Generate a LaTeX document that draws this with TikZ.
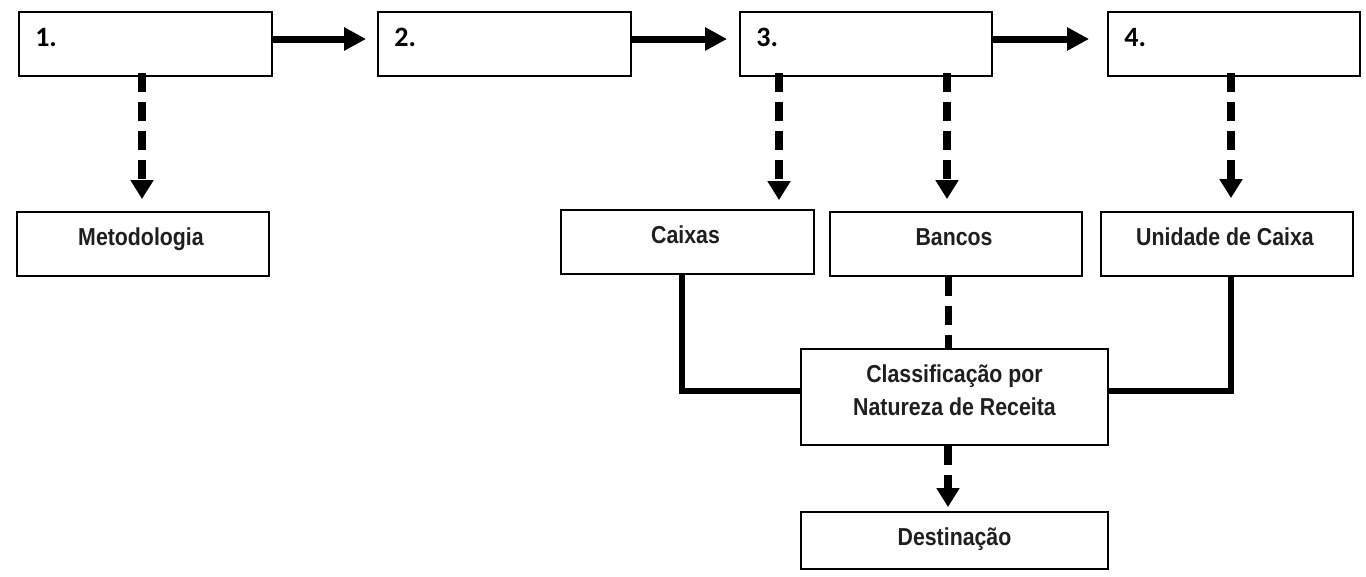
\documentclass[tikz,border=0pt]{standalone}
\usepackage{fontspec}
\newfontfamily\lblfont[FakeStretch=0.87]{Liberation Sans}
\newfontfamily\numfont{Carlito}
\usetikzlibrary{arrows.meta}
\begin{document}
\begin{tikzpicture}[x=1pt,y=-1pt,
  box/.style={draw=black, line width=1.8pt, inner sep=0pt, fill=white},
  lbl/.style={inner sep=0pt, anchor=base, text=black!88, font=\lblfont\bfseries\fontsize{24.5}{33}\selectfont},
  num/.style={inner sep=0pt, anchor=base west, font=\numfont\bfseries\fontsize{28}{30}\selectfont},
  solidarrow/.style={line width=7pt, -{Triangle[length=22pt,width=22pt]}},
  dasharrow/.style={line width=7.5pt, dash pattern=on 19pt off 10pt, -{Triangle[length=19pt,width=22pt]}},
  dashline/.style={line width=7pt, dash pattern=on 19pt off 10pt},
  conn/.style={line width=6pt, line join=miter}
]
\useasboundingbox (0,0) rectangle (1366,576);

% top row
\node[box, minimum width=253pt, minimum height=64pt] (b1) at (145.5,44) {};
\node[box, minimum width=253pt, minimum height=64pt] (b2) at (504.5,44) {};
\node[box, minimum width=252pt, minimum height=64pt] (b3) at (866,44) {};
\node[box, minimum width=252pt, minimum height=64pt] (b4) at (1234,44) {};
\node[num] (n1) at ([xshift=17pt,yshift=-35pt]b1.north west) {1.};
\node[num] (n2) at ([xshift=17pt,yshift=-35pt]b2.north west) {2.};
\node[num] (n3) at ([xshift=17pt,yshift=-35pt]b3.north west) {3.};
\node[num] (n4) at ([xshift=17pt,yshift=-35pt]b4.north west) {4.};

% second row
\node[box, minimum width=252pt, minimum height=64pt] (met) at (143,244) {};
\node[box, minimum width=253pt, minimum height=64pt] (cai) at (687.5,242) {};
\node[box, minimum width=252pt, minimum height=64pt] (ban) at (956,244) {};
\node[box, minimum width=252pt, minimum height=64pt] (uni) at (1227,244) {};
\node[lbl] (tmet) at ([xshift=-2pt,yshift=-34pt]met.north) {Metodologia};
\node[lbl] (tcai) at ([xshift=-2pt,yshift=-34pt]cai.north) {Caixas};
\node[lbl] (tban) at ([xshift=-2pt,yshift=-34pt]ban.north) {Bancos};
\node[lbl] (tuni) at ([xshift=-2pt,yshift=-34pt]uni.north) {Unidade de Caixa};

% lower boxes
\node[box, minimum width=307pt, minimum height=96pt] (cla) at (954.5,397) {};
\node[box, minimum width=307pt, minimum height=57pt] (des) at (954.5,540.5) {};
\node[lbl, anchor=north, align=center] (tcla) at ([yshift=-16pt]cla.north) {Classificação por\\Natureza de Receita};
\node[lbl] (tdes) at ([yshift=-34pt]des.north) {Destinação};

% horizontal arrows
\coordinate (h1) at (272,39);
\coordinate (h2) at (631,39);
\coordinate (h3) at (992,39);
\draw[solidarrow, shorten >=11pt] (h1) -- (h1 -| b2.west);
\draw[solidarrow, shorten >=12pt] (h2) -- (h2 -| b3.west);
\draw[solidarrow, shorten >=18pt] (h3) -- (h3 -| b4.west);

% dashed arrows down
\coordinate (d1) at (142,73);
\coordinate (d2) at (779,73);
\coordinate (d3) at (947,73);
\coordinate (d4) at (1231,73);
\draw[dasharrow, shorten >=12pt] (d1) -- (d1 |- met.north);
\draw[dasharrow, shorten >=9pt] (d2) -- (d2 |- cai.north);
\draw[dasharrow, shorten >=12pt] (d3) -- (d3 |- ban.north);
\draw[dasharrow, shorten >=13pt] (d4) -- (d4 |- uni.north);

% connectors to classification
\coordinate (c1) at (682,274);
\coordinate (c3) at (1231,276);
\coordinate (c2) at (948,277);
\draw[conn] (c1) |- ([yshift=6pt]cla.west);
\draw[conn] (c3) |- ([yshift=6pt]cla.east);
\draw[dashline] (c2) -- (c2 |- cla.north);
\coordinate (c4) at (948,446);
\draw[dasharrow, shorten >=4pt] (c4) -- (c4 |- des.north);
\end{tikzpicture}
\end{document}
